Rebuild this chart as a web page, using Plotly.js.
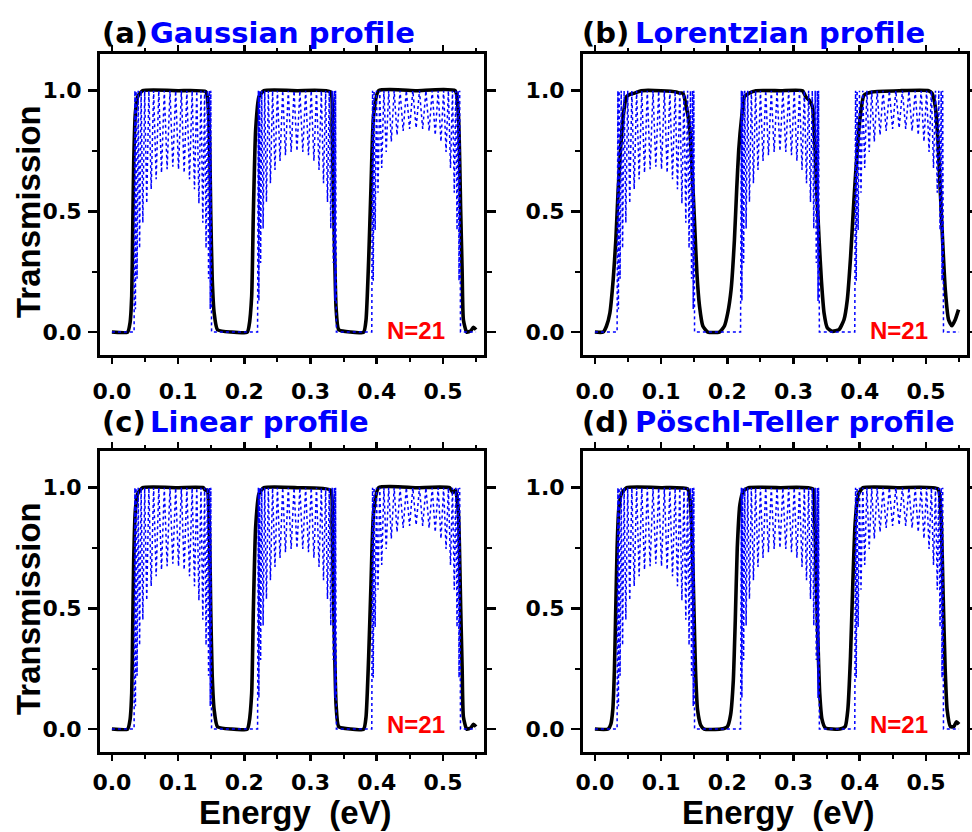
<!DOCTYPE html>
<html>
<head>
<meta charset="utf-8">
<script src="https://cdn.plot.ly/plotly-3.0.1.min.js"></script>
<style>
  html, body { margin: 0; padding: 0; background: #ffffff; }
  #chart { width: 972px; height: 832px; }
</style>
</head>
<body>
<div id="chart"></div>
<script>
// ---------------- data ----------------
// Blue dotted curve: ideal superlattice transmission (same in all panels)
const blueE = [
  0.0000, 0.0335,
  0.0347, 0.0355, 0.0366, 0.0380, 0.0397, 0.0418, 0.0441, 0.0467, 0.0495, 0.0526,
  0.0558, 0.0593, 0.0630, 0.0668, 0.0708, 0.0749, 0.0791, 0.0834, 0.0877, 0.0920,
  0.0963, 0.1006, 0.1049, 0.1091, 0.1132, 0.1172, 0.1212, 0.1247, 0.1282, 0.1314,
  0.1345, 0.1373, 0.1400, 0.1422, 0.1443, 0.1460, 0.1474, 0.1485, 0.1494,
  0.1505, 0.2200,
  0.2212, 0.2220, 0.2231, 0.2246, 0.2263, 0.2284, 0.2308, 0.2334, 0.2363, 0.2394,
  0.2427, 0.2463, 0.2500, 0.2539, 0.2580, 0.2621, 0.2664, 0.2707, 0.2751, 0.2795,
  0.2839, 0.2883, 0.2926, 0.2969, 0.3010, 0.3051, 0.3090, 0.3128, 0.3163, 0.3196,
  0.3228, 0.3256, 0.3283, 0.3306, 0.3327, 0.3344, 0.3359, 0.3370, 0.3378,
  0.3390, 0.3925,
  0.3937, 0.3947, 0.3960, 0.3976, 0.3996, 0.4019, 0.4046, 0.4075, 0.4108, 0.4143,
  0.4180, 0.4220, 0.4263, 0.4307, 0.4352, 0.4399, 0.4447, 0.4496, 0.4545, 0.4595,
  0.4645, 0.4694, 0.4743, 0.4791, 0.4838, 0.4883, 0.4927, 0.4970, 0.5010, 0.5047,
  0.5082, 0.5114, 0.5144, 0.5171, 0.5194, 0.5213, 0.5230, 0.5243, 0.5253,
  0.5265, 0.5500
];
const blueT = [
  0, 0,
  1, 0.095, 1, 0.221, 1, 0.347, 1, 0.453, 1, 0.533,
  1, 0.592, 1, 0.633, 1, 0.660, 1, 0.675, 1, 0.685,
  1, 0.675, 1, 0.660, 1, 0.633, 1, 0.592, 1, 0.533,
  1, 0.453, 1, 0.347, 1, 0.221, 1, 0.095, 1,
  0, 0,
  1, 0.129, 1, 0.286, 1, 0.429, 1, 0.539, 1, 0.617,
  1, 0.672, 1, 0.709, 1, 0.733, 1, 0.746, 1, 0.750,
  1, 0.746, 1, 0.733, 1, 0.709, 1, 0.672, 1, 0.617,
  1, 0.539, 1, 0.429, 1, 0.286, 1, 0.129, 1,
  0, 0,
  1, 0.213, 1, 0.422, 1, 0.577, 1, 0.680, 1, 0.746,
  1, 0.789, 1, 0.816, 1, 0.833, 1, 0.842, 1, 0.845,
  1, 0.842, 1, 0.833, 1, 0.816, 1, 0.789, 1, 0.746,
  1, 0.680, 1, 0.577, 1, 0.422, 1, 0.213, 1,
  0, 0
];

// Black solid curves: graded-profile transmission, one per panel
const gaussE = [
  0.0000, 0.0238, 0.0274, 0.0299, 0.0314, 0.0329, 0.0354, 0.0389, 0.0464, 0.1000,
  0.1418, 0.1450, 0.1475, 0.1493, 0.1515, 0.1544, 0.1594, 0.1800,
  0.2045, 0.2071, 0.2111, 0.2136, 0.2171, 0.2221, 0.2297, 0.2800,
  0.3301, 0.3325, 0.3351, 0.3370, 0.3386, 0.3426, 0.3600,
  0.3803, 0.3838, 0.3878, 0.3913, 0.3953, 0.4029, 0.4600,
  0.5183, 0.5233, 0.5268, 0.5290, 0.5309, 0.5359, 0.5420, 0.5460, 0.5500
];
const gaussT = [
  0.000, 0.000, 0.039, 0.149, 0.424, 0.700, 0.907, 0.975, 1.000, 1.000,
  0.996, 0.950, 0.800, 0.490, 0.220, 0.080, 0.010, 0.000,
  0.000, 0.025, 0.149, 0.490, 0.838, 0.975, 1.000, 1.000,
  0.995, 0.850, 0.500, 0.250, 0.100, 0.010, 0.000,
  0.000, 0.050, 0.300, 0.600, 0.900, 1.000, 1.000,
  1.000, 0.900, 0.500, 0.250, 0.050, 0.000, 0.005, 0.020, 0.010
];

const lorE = [
  0.0000, 0.0125, 0.0175, 0.0226, 0.0276, 0.0316, 0.0351, 0.0386, 0.0426, 0.0476,
  0.0530, 0.0600, 0.0700, 0.1000, 0.1230, 0.1280, 0.1329,
  0.1380, 0.1430, 0.1470, 0.1505, 0.1540, 0.1580, 0.1630, 0.1705, 0.1880,
  0.1956, 0.2006, 0.2057, 0.2107, 0.2141, 0.2172, 0.2217, 0.2257, 0.2330, 0.2433, 0.2800,
  0.3135, 0.3185, 0.3235, 0.3285, 0.3320, 0.3350, 0.3386, 0.3420, 0.3461, 0.3511,
  0.3586, 0.3686, 0.3762, 0.3812, 0.3862, 0.3912, 0.3962, 0.4013, 0.4063, 0.4188, 0.4600,
  0.5040, 0.5090, 0.5141, 0.5181, 0.5216, 0.5251, 0.5292, 0.5342, 0.5391, 0.5442, 0.5492
];
const lorT = [
  0.000, 0.000, 0.025, 0.079, 0.217, 0.382, 0.589, 0.754, 0.892, 0.975,
  0.985, 0.990, 1.000, 1.000, 0.995, 0.990, 0.990,
  0.934, 0.851, 0.658, 0.452, 0.245, 0.107, 0.025, 0.000, 0.000,
  0.025, 0.079, 0.176, 0.382, 0.589, 0.754, 0.892, 0.975, 0.990, 1.000, 1.000,
  1.000, 0.975, 0.961, 0.934, 0.796, 0.589, 0.382, 0.217, 0.079, 0.017,
  0.003, 0.010, 0.051, 0.134, 0.313, 0.547, 0.754, 0.906, 0.981, 0.995, 1.000,
  1.000, 0.990, 0.934, 0.796, 0.589, 0.382, 0.176, 0.051, 0.026, 0.051, 0.093
];

const linE = [
  0.0000, 0.0238, 0.0274, 0.0299, 0.0314, 0.0329, 0.0354, 0.0389, 0.0464, 0.1000,
  0.1380, 0.1410, 0.1440, 0.1475, 0.1493, 0.1515, 0.1544, 0.1594, 0.1800,
  0.2045, 0.2071, 0.2111, 0.2136, 0.2171, 0.2221, 0.2297, 0.2800,
  0.3301, 0.3325, 0.3351, 0.3370, 0.3386, 0.3426, 0.3600,
  0.3803, 0.3838, 0.3878, 0.3913, 0.3953, 0.4029, 0.4600,
  0.5100, 0.5150, 0.5190, 0.5233, 0.5268, 0.5290, 0.5309, 0.5359, 0.5420, 0.5460, 0.5500
];
const linT = [
  0.000, 0.000, 0.039, 0.149, 0.424, 0.700, 0.907, 0.975, 1.000, 1.000,
  1.000, 0.990, 0.990, 0.800, 0.490, 0.220, 0.080, 0.010, 0.000,
  0.000, 0.025, 0.149, 0.490, 0.838, 0.975, 1.000, 1.000,
  0.990, 0.850, 0.500, 0.250, 0.100, 0.010, 0.000,
  0.000, 0.050, 0.300, 0.600, 0.900, 1.000, 1.000,
  1.000, 0.980, 0.990, 0.900, 0.500, 0.250, 0.050, 0.000, 0.005, 0.020, 0.010
];

const ptE = [
  0.0000, 0.0200, 0.0240, 0.0270, 0.0295, 0.0315, 0.0335, 0.0360, 0.0400, 0.0480, 0.1000,
  0.1400, 0.1440, 0.1470, 0.1495, 0.1520, 0.1550, 0.1600, 0.1650, 0.1900,
  0.2000, 0.2050, 0.2090, 0.2120, 0.2150, 0.2190, 0.2240, 0.2320, 0.2800,
  0.3290, 0.3320, 0.3345, 0.3370, 0.3395, 0.3430, 0.3480, 0.3700,
  0.3780, 0.3820, 0.3860, 0.3895, 0.3930, 0.3975, 0.4050, 0.4600,
  0.5180, 0.5225, 0.5260, 0.5290, 0.5320, 0.5370, 0.5420, 0.5460, 0.5500
];
const ptT = [
  0.000, 0.000, 0.020, 0.080, 0.250, 0.500, 0.750, 0.910, 0.975, 1.000, 1.000,
  0.995, 0.940, 0.780, 0.500, 0.240, 0.080, 0.015, 0.000, 0.000,
  0.010, 0.060, 0.200, 0.450, 0.750, 0.930, 0.985, 1.000, 1.000,
  0.995, 0.880, 0.600, 0.350, 0.150, 0.040, 0.005, 0.000,
  0.010, 0.080, 0.300, 0.600, 0.850, 0.970, 1.000, 1.000,
  0.995, 0.900, 0.550, 0.250, 0.080, 0.010, 0.010, 0.030, 0.020
];

const panelLetters = ['(a)', '(b)', '(c)', '(d)'];
const panelNames = ['Gaussian profile', 'Lorentzian profile', 'Linear profile', 'Pöschl-Teller profile'];
const blackE = [gaussE, lorE, linE, ptE];
const blackT = [gaussT, lorT, linT, ptT];
const xTickVals = [0.0, 0.1, 0.2, 0.3, 0.4, 0.5];
const yTickVals = [0.0, 0.5, 1.0];
const nLabel = 'N=21';
const xTitle = 'Energy\u00A0\u00A0(eV)';
const yTitle = 'Transmission';

// ---------------- layout ----------------
const FW = 972, FH = 832;
// panel frames in pixels: [left, right, top, bottom]
const frames = [
  [100, 484, 54, 355],
  [583, 967, 54, 355],
  [100, 484, 451, 752],
  [583, 967, 451, 752]
];
const tickFont = {family: 'DejaVu Sans', size: 22, weight: 700, color: '#000000'};

const traces = [];
const layout = {
  width: FW, height: FH,
  margin: {l: 0, r: 0, t: 0, b: 0},
  paper_bgcolor: '#ffffff',
  plot_bgcolor: '#ffffff',
  showlegend: false,
  annotations: []
};

frames.forEach((f, i) => {
  const n = i + 1;
  const xa = 'x' + (n === 1 ? '' : n);
  const ya = 'y' + (n === 1 ? '' : n);
  const xk = 'xaxis' + (n === 1 ? '' : n);
  const yk = 'yaxis' + (n === 1 ? '' : n);
  traces.push({
    x: blackE[i], y: blackT[i], xaxis: xa, yaxis: ya,
    type: 'scatter', mode: 'lines',
    line: {color: '#000000', width: 3.6, shape: 'spline', smoothing: 0.5},
    hoverinfo: 'skip'
  });
  traces.push({
    x: blueE, y: blueT, xaxis: xa, yaxis: ya,
    type: 'scatter', mode: 'lines',
    line: {color: '#0000ff', width: 1.5, dash: 'dot'},
    hoverinfo: 'skip'
  });
  layout[xk] = {
    domain: [f[0] / FW, f[1] / FW],
    anchor: ya,
    range: [-0.018, 0.562],
    tickvals: xTickVals,
    tickformat: '.1f',
    ticks: 'outside', ticklen: 6, tickwidth: 2.5, tickcolor: '#000000',
    showline: true, linewidth: 3, linecolor: '#000000', mirror: 'ticks',
    showgrid: false, zeroline: false,
    minor: {dtick: 0.05, tick0: 0, ticks: 'outside', ticklen: 3.5, tickwidth: 2, tickcolor: '#000000'},
    tickfont: tickFont,
    ticklabelstandoff: i < 2 ? 9 : 3,
    fixedrange: true
  };
  layout[yk] = {
    domain: [1 - f[3] / FH, 1 - f[2] / FH],
    anchor: xa,
    range: [-0.095, 1.152],
    tickvals: yTickVals,
    tickformat: '.1f',
    ticks: 'outside', ticklen: 9, tickwidth: 2.5, tickcolor: '#000000',
    showline: true, linewidth: 3, linecolor: '#000000', mirror: 'ticks',
    showgrid: false, zeroline: false,
    minor: {tickvals: [0.25, 0.75], ticks: 'outside', ticklen: 5, tickwidth: 2, tickcolor: '#000000'},
    tickfont: tickFont,
    ticklabelstandoff: 2,
    fixedrange: true
  };
  // panel titles
  const ty = i < 2 ? 33 : 422;
  layout.annotations.push({
    xref: 'paper', yref: 'paper', x: (f[0] - (i % 2 === 1 ? 3 : 0)) / FW, y: 1 - ty / FH,
    xanchor: 'left', yanchor: 'middle', showarrow: false,
    text: panelLetters[i],
    font: {family: 'DejaVu Sans', size: 29, weight: 700, color: '#000000'}
  });
  layout.annotations.push({
    xref: 'paper', yref: 'paper', x: (f[0] + (i % 2 === 1 ? 50 : 48)) / FW, y: 1 - ty / FH,
    xanchor: 'left', yanchor: 'middle', showarrow: false,
    text: panelNames[i],
    font: {family: 'DejaVu Sans', size: 29, weight: 700, color: '#0000ff'}
  });
  // N=21 labels
  layout.annotations.push({
    xref: xa + ' domain', yref: ya + ' domain',
    x: 0.823, y: i < 2 ? 0.08 : 0.093,
    xanchor: 'center', yanchor: 'middle', showarrow: false,
    text: nLabel,
    font: {family: 'Liberation Sans', size: 24, weight: 700, color: '#ff0000'}
  });
});

// axis titles
[212, 609].forEach(cy => {
  layout.annotations.push({
    xref: 'paper', yref: 'paper', x: 28 / FW, y: 1 - cy / FH,
    xanchor: 'center', yanchor: 'middle', showarrow: false, textangle: -90,
    text: yTitle,
    font: {family: 'Liberation Sans', size: 33, weight: 700, color: '#000000'}
  });
});
[295, 778].forEach(cx => {
  layout.annotations.push({
    xref: 'paper', yref: 'paper', x: cx / FW, y: 1 - 812 / FH,
    xanchor: 'center', yanchor: 'middle', showarrow: false,
    text: xTitle,
    font: {family: 'Liberation Sans', size: 33, weight: 700, color: '#000000'}
  });
});

Plotly.newPlot('chart', traces, layout, {staticPlot: true, displayModeBar: false});
</script>
</body>
</html>
